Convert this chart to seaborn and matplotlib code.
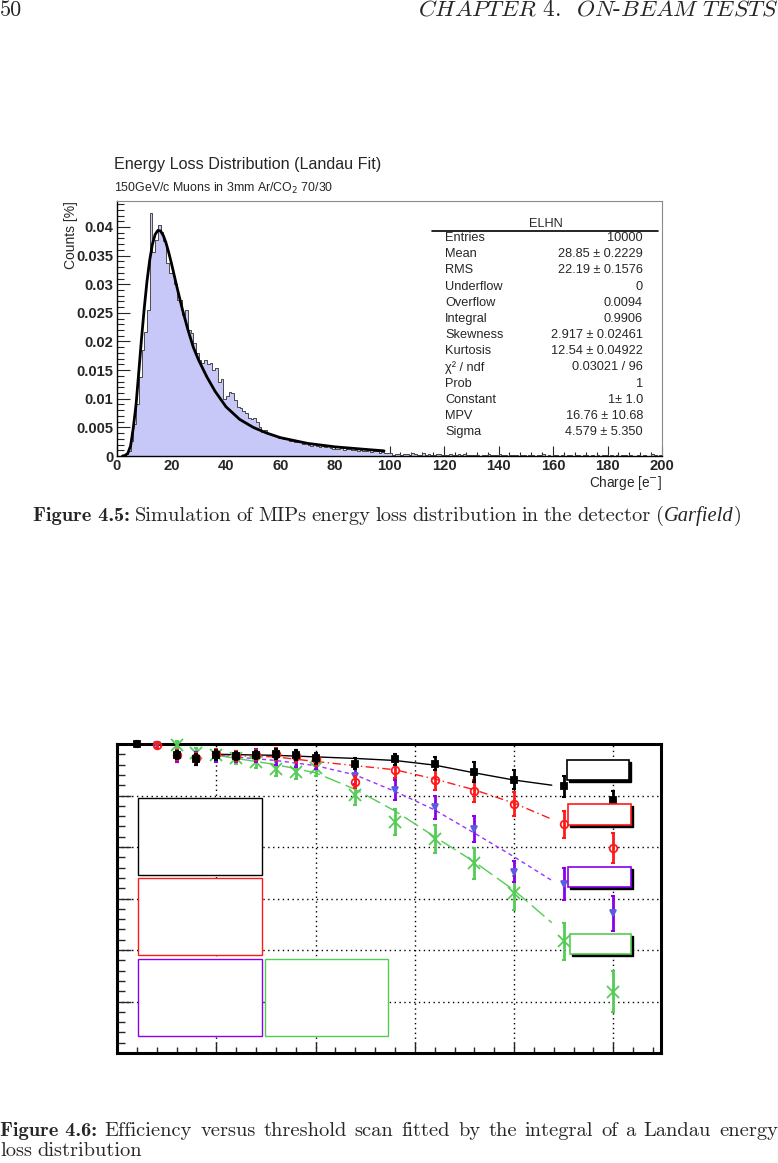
import numpy as np
import pandas as pd
import matplotlib
matplotlib.use("Agg")
import matplotlib.pyplot as plt
import seaborn as sns
from matplotlib.patches import Rectangle
from matplotlib.lines import Line2D
from matplotlib.ticker import MultipleLocator, FuncFormatter, NullFormatter

# ---------------- data : figure 4.5 (histogram, 1 e- bins, 0..200) ----------------
counts = [
    0.0000, 0.0000, 0.0001, 0.0003, 0.0008, 0.0027, 0.0056, 0.0090, 0.0138, 0.0185,
    0.0217, 0.0255, 0.0425, 0.0357, 0.0378, 0.0404, 0.0392, 0.0375, 0.0337, 0.0320,
    0.0320, 0.0300, 0.0273, 0.0273, 0.0246, 0.0255, 0.0220, 0.0214, 0.0197, 0.0180,
    0.0168, 0.0163, 0.0167, 0.0160, 0.0163, 0.0150, 0.0153, 0.0130, 0.0135, 0.0100,
    0.0105, 0.0112, 0.0110, 0.0097, 0.0086, 0.0084, 0.0079, 0.0075, 0.0067, 0.0065,
    0.0067, 0.0060, 0.0050, 0.0042, 0.0045, 0.0040, 0.0038, 0.0036, 0.0035, 0.0032,
    0.0031, 0.0029, 0.0030, 0.0027, 0.0026, 0.0025, 0.0024, 0.0025, 0.0021, 0.0022,
    0.0019, 0.0018, 0.0023, 0.0017, 0.0016, 0.0017, 0.0015, 0.0018, 0.0014, 0.0013,
    0.0013, 0.0012, 0.0014, 0.0011, 0.0012, 0.0012, 0.0010, 0.0011, 0.0009, 0.0010,
    0.0009, 0.0008, 0.0010, 0.0007, 0.0008, 0.0009, 0.0006, 0.0007, 0.0006, 0.0006,
    0.0005, 0.0002, 0.0004, 0.0003, 0.0002, 0.0004, 0.0003, 0.0002, 0.0006, 0.0003,
    0.0002, 0.0001, 0.0005, 0.0002, 0.0003, 0.0001, 0.0002, 0.0004, 0.0003, 0.0001,
    0.0002, 0.0001, 0.0003, 0.0002, 0.0001, 0.0004, 0.0002, 0.0003, 0.0001, 0.0002,
    0.0001, 0.0002, 0.0001, 0.0000, 0.0002, 0.0001, 0.0003, 0.0001, 0.0002, 0.0001,
    0.0004, 0.0002, 0.0001, 0.0000, 0.0001, 0.0002, 0.0001, 0.0000, 0.0001, 0.0002,
    0.0000, 0.0001, 0.0002, 0.0000, 0.0001, 0.0001, 0.0003, 0.0000, 0.0001, 0.0000,
    0.0001, 0.0002, 0.0000, 0.0001, 0.0000, 0.0002, 0.0001, 0.0000, 0.0001, 0.0001,
    0.0000, 0.0001, 0.0002, 0.0000, 0.0001, 0.0000, 0.0001, 0.0000, 0.0002, 0.0001,
    0.0000, 0.0001, 0.0000, 0.0001, 0.0000, 0.0001, 0.0001, 0.0000, 0.0001, 0.0000,
    0.0000, 0.0001, 0.0000, 0.0001, 0.0000, 0.0000, 0.0003, 0.0001, 0.0000, 0.0001,
]
fit_x = [2, 3, 4, 5, 6, 7, 8, 9, 10, 11, 12, 13, 14, 15, 16, 17, 18, 19, 20,
         22, 24, 26, 28, 30, 33, 36, 40, 45, 50, 55, 60, 70, 80, 90, 98]
fit_y = [0.0000, 0.0001, 0.0005, 0.0018, 0.0050, 0.0090, 0.0147, 0.0205, 0.0258,
         0.0305, 0.0342, 0.0370, 0.0387, 0.0394, 0.0393, 0.0385, 0.0372, 0.0355,
         0.0336, 0.0295, 0.0256, 0.0221, 0.0190, 0.0167, 0.0138, 0.0113, 0.0086,
         0.0064, 0.0050, 0.0040, 0.0032, 0.0022, 0.0016, 0.0012, 0.0009]
stat_names = ["Entries", "Mean", "RMS", "Underflow", "Overflow", "Integral",
              "Skewness", "Kurtosis", "\u03c7\u00b2 / ndf", "Prob", "Constant",
              "MPV", "Sigma"]
stat_values = ["10000", "28.85 \u00b1 0.2229", "22.19 \u00b1 0.1576", "0", "0.0094",
               "0.9906", "2.917 \u00b1 0.02461", "12.54 \u00b1 0.04922",
               "0.03021 / 96", "1", "1\u00b1 1.0", "16.76 \u00b1 10.68",
               "4.579 \u00b1 5.350"]

# ---------------- data : figure 4.6 (efficiency vs threshold) ----------------
# None = no point at that threshold for that series
thresholds = [1, 2, 3, 4, 5, 6, 7, 8, 9, 10, 12, 14, 16, 18, 20, 22.5, 25]
eff_black = [1.000, None, 0.979, 0.970, 0.979, 0.977, 0.979, 0.981, 0.979, 0.972,
             0.962, 0.970, 0.962, 0.946, 0.931, 0.918, 0.891]
err_black = [0.005, None, 0.008, 0.010, 0.010, 0.008, 0.008, 0.010, 0.010, 0.010,
             0.010, 0.011, 0.013, 0.019, 0.018, 0.020, 0.018]
eff_red = [None, 0.998, 0.979, 0.972, 0.980, 0.977, 0.979, 0.980, 0.977, 0.970,
           0.926, 0.950, 0.930, 0.909, 0.884, 0.844, 0.798]
err_red = [None, 0.005, 0.010, 0.010, 0.010, 0.010, 0.010, 0.012, 0.012, 0.012,
           0.012, 0.016, 0.019, 0.021, 0.023, 0.026, 0.029]
eff_purple = [None, 0.998, 0.977, 0.972, 0.975, 0.976, 0.978, 0.972, 0.968, 0.964,
              0.937, 0.911, 0.877, 0.835, 0.752, 0.728, 0.671]
err_purple = [None, 0.005, 0.012, 0.012, 0.010, 0.010, 0.012, 0.012, 0.012, 0.012,
              0.014, 0.020, 0.023, 0.025, 0.020, 0.031, 0.034]
eff_green = [None, None, 0.999, 0.982, 0.979, 0.972, 0.966, 0.951, 0.946, 0.953,
             0.901, 0.849, 0.816, 0.768, 0.710, 0.617, 0.519]
err_green = [None, None, 0.006, 0.010, 0.010, 0.010, 0.012, 0.014, 0.014, 0.016,
             0.020, 0.025, 0.027, 0.031, 0.033, 0.036, 0.040]
fit_thr = [5, 8, 10, 12, 14, 16, 18, 20, 21.9]
fit_black = [0.980, 0.978, 0.975, 0.972, 0.968, 0.959, 0.944, 0.930, 0.920]
fit_red = [0.978, 0.975, 0.966, 0.958, 0.950, 0.932, 0.911, 0.885, 0.854]
fit_purple = [0.978, 0.968, 0.958, 0.940, 0.908, 0.872, 0.827, 0.781, 0.735]
fit_green = [0.978, 0.960, 0.944, 0.912, 0.870, 0.820, 0.771, 0.716, 0.653]

# ---------------- page text ----------------
page_number = "50"
header = r"$\mathit{CHAPTER}$ 4.  $\mathit{ON}$-$\mathit{BEAM\ TESTS}$"
RM = dict(family="cmr10")
BF = dict(family="cmb10")
IT = dict(family="Liberation Serif", style="italic")
caption_45 = [[("Figure 4.5:", BF)]] + [[(w, RM)] for w in
              "Simulation of MIPs energy loss distribution in the detector".split()] + \
             [[("(", RM), ("Garfield", IT), (")", RM)]]
caption_46a = [[("Figure 4.6:", BF)]] + [[(w, RM)] for w in
               "Efficiency versus threshold scan fitted by the integral of a Landau energy".split()]
caption_46b = [[(w, RM)] for w in "loss distribution".split()]
hist_title = "Energy Loss Distribution (Landau Fit)"
hist_subtitle = r"150GeV/c Muons in 3mm Ar/CO$_2$ 70/30"
hist_ylabel = "Counts [%]"
hist_xlabel = r"Charge [e$^{-}$]"
stats_title = "ELHN"

# ---------------- figure ----------------
W, H = 778, 1163
sns.set_theme(style="ticks")
plt.rcParams["font.family"] = ["Liberation Sans", "DejaVu Sans"]
plt.rcParams["axes.facecolor"] = "white"
fig = plt.figure(figsize=(W / 100, H / 100), dpi=100)
fig.patch.set_facecolor("white")


def fx(p):
    return p / W


def fy(p):
    return 1 - p / H


def arr(v):
    return np.array([np.nan if a is None else a for a in v], dtype=float)


# ======== Figure 4.5 ========
ax1 = fig.add_axes([fx(117), fy(456), 545 / W, 255 / H])
hist_df = pd.DataFrame({"charge": np.arange(len(counts)) + 0.5, "w": counts})
sns.histplot(data=hist_df, x="charge", weights="w", binwidth=1, binrange=(0, 200),
             element="step", fill=True, stat="count", color="#c8c8f8", alpha=1.0,
             edgecolor="#4a4a4a", linewidth=0.7, ax=ax1)
sns.lineplot(x=fit_x, y=fit_y, color="black", linewidth=2.0, sort=False, ax=ax1)
ax1.set_xlim(0, 200)
ax1.set_ylim(0, 0.04454)
ax1.set_xlabel("")
ax1.set_ylabel("")
ax1.xaxis.set_major_locator(MultipleLocator(20))
ax1.xaxis.set_minor_locator(MultipleLocator(4))
ax1.yaxis.set_major_locator(MultipleLocator(0.005))
ax1.yaxis.set_minor_locator(MultipleLocator(0.001))
ax1.yaxis.set_major_formatter(FuncFormatter(lambda v, p: "0" if abs(v) < 1e-9 else f"{v:g}"))
ax1.xaxis.set_major_formatter(FuncFormatter(lambda v, p: f"{v:.0f}"))
ax1.tick_params(axis="y", which="major", direction="in", length=9.5, width=0.8,
                pad=2.5, labelsize=10.6)
ax1.tick_params(axis="y", which="minor", direction="in", length=5, width=0.8)
ax1.tick_params(axis="x", which="major", direction="in", length=7, width=0.8,
                pad=2.5, labelsize=10.6)
ax1.tick_params(axis="x", which="minor", direction="in", length=3, width=0.8)
for lab in ax1.get_xticklabels() + ax1.get_yticklabels():
    lab.set_fontweight("bold")
for s in ["top", "right"]:
    ax1.spines[s].set_color("#8a8a8a")
    ax1.spines[s].set_linewidth(0.8)
for s in ["left", "bottom"]:
    ax1.spines[s].set_color("black")
    ax1.spines[s].set_linewidth(1.0)

fig.text(fx(114), fy(165), hist_title, fontsize=11.6, ha="left", va="center")
fig.text(fx(114), fy(188), hist_subtitle, fontsize=8.9, ha="left", va="center")
fig.text(fx(71), fy(201), hist_ylabel, fontsize=10, rotation=90, ha="center", va="top")
fig.text(fx(662), fy(483), hist_xlabel, fontsize=9.8, ha="right", va="center")

# stats box
fig.text(fx(546), fy(224), stats_title, fontsize=9.2, ha="center", va="center")
fig.add_artist(Line2D([fx(432), fx(658)], [fy(231), fy(231)], color="black", lw=1.2))
for i, (n, v) in enumerate(zip(stat_names, stat_values)):
    yy = 238 + i * 16.17
    fig.text(fx(445), fy(yy), n, fontsize=9.2, ha="left", va="center")
    fig.text(fx(643), fy(yy), v, fontsize=9.2, ha="right", va="center")

# ======== Figure 4.6 ========
ax2 = fig.add_axes([fx(117), fy(1053), 544 / W, 309 / H])
line_styles = [
    (fit_black, "black", "-"),
    (fit_red, "#ff1a1a", (0, (6, 2.5, 1, 2.5))),
    (fit_purple, "#9933ff", (0, (3, 2.5))),
    (fit_green, "#55cc55", (0, (12, 4))),
]
for yy, c, ls in line_styles:
    sns.lineplot(x=fit_thr, y=yy, color=c, linewidth=1.0, linestyle=ls, sort=False,
                 ax=ax2, zorder=2)

series = [
    (eff_green, err_green, "#55cc55", "x", "#55cc55", "#55cc55", 8),
    (eff_purple, err_purple, "#8800ee", "v", "#5c5ce0", "#5c5ce0", 5),
    (eff_red, err_red, "#ff1a1a", "o", "none", "#ff1a1a", 5.5),
    (eff_black, err_black, "black", "s", "black", "black", 5),
]
thr = np.array(thresholds, dtype=float)
for k, (yy, ee, ec, mk, mfc, mec, ms) in enumerate(series):
    yv, ev = arr(yy), arr(ee)
    ok = ~np.isnan(yv)
    ax2.errorbar(thr[ok], yv[ok], yerr=ev[ok], fmt="none", ecolor=ec, elinewidth=2.0,
                 capsize=1.5, capthick=1.5, zorder=3 + 0.1 * k, clip_on=False)
    ax2.plot(thr[ok], yv[ok], linestyle="none", marker=mk, ms=ms, mfc=mfc, mec=mec,
             mew=1.3, zorder=3.05 + 0.1 * k, clip_on=False)

ax2.set_xlim(0, 27.4)
ax2.set_ylim(0.4, 1.0)
ax2.xaxis.set_major_locator(MultipleLocator(5))
ax2.xaxis.set_minor_locator(MultipleLocator(1))
ax2.yaxis.set_major_locator(MultipleLocator(0.1))
ax2.yaxis.set_minor_locator(MultipleLocator(0.02))
ax2.xaxis.set_major_formatter(NullFormatter())
ax2.yaxis.set_major_formatter(NullFormatter())
ax2.grid(which="major", color="black", linestyle=(0, (1, 2.5)), linewidth=1.0, zorder=1)
ax2.set_axisbelow(True)
ax2.tick_params(axis="y", which="major", direction="in", length=10, width=1)
ax2.tick_params(axis="y", which="minor", direction="in", length=6, width=1)
ax2.tick_params(axis="x", which="major", direction="in", length=8, width=1)
ax2.tick_params(axis="x", which="minor", direction="in", length=4, width=1)
ax2.tick_params(top=False, right=False)
for s in ax2.spines.values():
    s.set_linewidth(2.2)
    s.set_color("black")

# fit statistics boxes (left) and legend boxes (right)
stat_boxes = [
    ((138, 798, 262, 875), "black"),
    ((138, 878, 262, 955), "#ff1a1a"),
    ((138, 959, 262, 1036), "#8800ee"),
    ((265, 959, 388, 1036), "#55cc55"),
]
for (x0, y0, x1, y1), c in stat_boxes:
    ax2.add_patch(Rectangle((fx(x0), fy(y1)), (x1 - x0) / W, (y1 - y0) / H,
                            transform=fig.transFigure, facecolor="white",
                            edgecolor=c, linewidth=1.0, zorder=6, clip_on=False))
legend_boxes = [
    ((567, 760, 629, 780), "black"),
    ((568, 804, 631, 825), "#ff1a1a"),
    ((568, 867, 631, 887), "#8800ee"),
    ((570, 934, 631, 954), "#55cc55"),
]
for (x0, y0, x1, y1), c in legend_boxes:
    ax2.add_patch(Rectangle((fx(x0 + 2), fy(y1 + 2)), (x1 - x0) / W, (y1 - y0) / H,
                            transform=fig.transFigure, facecolor="black",
                            edgecolor="black", linewidth=1.0, zorder=6, clip_on=False))
    ax2.add_patch(Rectangle((fx(x0), fy(y1)), (x1 - x0) / W, (y1 - y0) / H,
                            transform=fig.transFigure, facecolor="white",
                            edgecolor=c, linewidth=1.2, zorder=7, clip_on=False))

# ======== page text (Computer Modern) ========
renderer = fig.canvas.get_renderer()


def text_width(s, size, **kw):
    t1 = fig.text(0, 0, "x" + s + "x", fontsize=size, **kw)
    t2 = fig.text(0, 0, "xx", fontsize=size, **kw)
    w = t1.get_window_extent(renderer).width - t2.get_window_extent(renderer).width
    t1.remove()
    t2.remove()
    return w


def space_px(size):
    return size * 100 / 72 * 0.25


def word_widths(words, size):
    return [[text_width(p, size, **st) for p, st in wd] for wd in words]


def natural_width(words, size):
    ww = word_widths(words, size)
    return sum(sum(w) for w in ww) + space_px(size) * (len(words) - 1)


def draw_line(words, x, baseline, size, align="left", justify=None):
    ww = word_widths(words, size)
    total = sum(sum(w) for w in ww)
    if justify is not None:
        gap = (justify - total) / (len(words) - 1)
    else:
        gap = space_px(size)
    full = total + gap * (len(words) - 1)
    if align == "center":
        x = x - full / 2
    elif align == "right":
        x = x - full
    cur = x
    for wd, wl in zip(words, ww):
        for (p, st), w in zip(wd, wl):
            fig.text(fx(cur), fy(baseline), p, fontsize=size, ha="left",
                     va="baseline", **st)
            cur += w
        cur += gap


fs = 12 * 708 / natural_width(caption_45, 12)
fs = 708 / natural_width(caption_45, fs) * fs
draw_line(caption_45, 387, 521, fs, align="center")
draw_line(caption_46a, 0, 1136, fs, justify=778)
draw_line(caption_46b, 0, 1156, fs)

hd = fig.text(fx(778), fy(16), header, fontsize=12, ha="right", va="baseline",
              family="cmr10", math_fontfamily="cm")
hs = 12 * 361 / hd.get_window_extent(renderer).width
hd.set_fontsize(hs)
fig.text(fx(0), fy(16), page_number, fontsize=hs * 0.95, ha="left", va="baseline", **RM)

fig.savefig("out.png", dpi=100, facecolor="white")
